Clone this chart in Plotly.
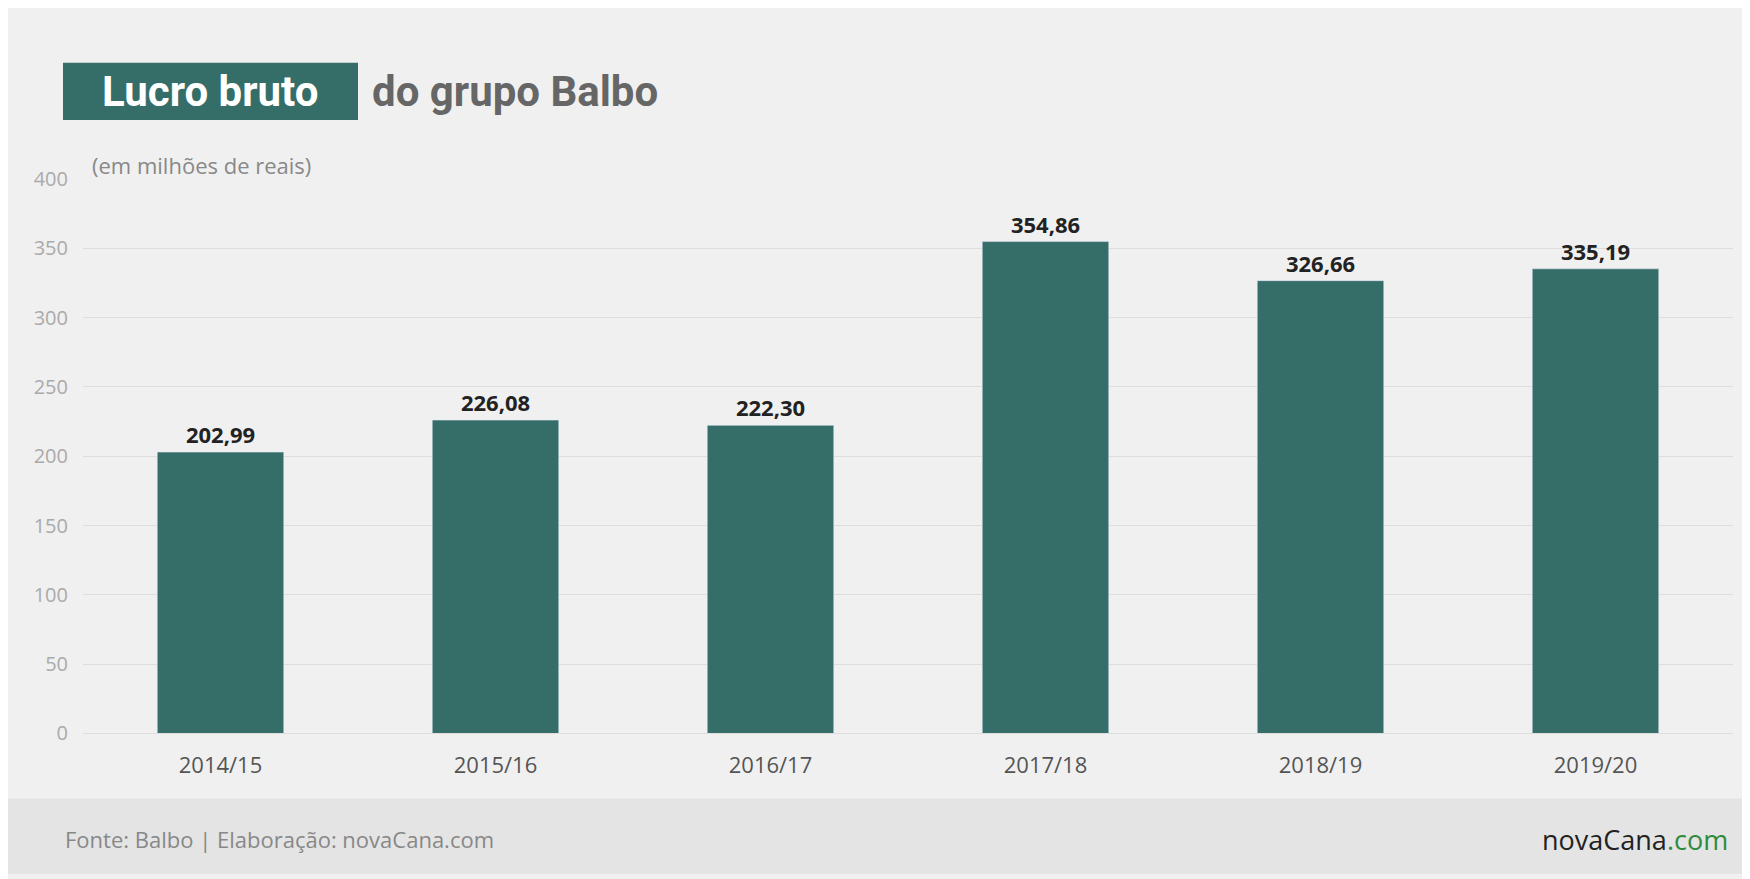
import plotly.graph_objects as go

categories = ["2014/15", "2015/16", "2016/17", "2017/18", "2018/19", "2019/20"]
values = [202.99, 226.08, 222.30, 354.86, 326.66, 335.19]
labels = ["202,99", "226,08", "222,30", "354,86", "326,66", "335,19"]

W, H = 1750, 879
def py(y): return 1 - y / H

fig = go.Figure(go.Bar(
    x=categories, y=values, width=0.46, marker_color="#356d69",
    text=["<b>%s</b>" % t for t in labels], textposition="outside", cliponaxis=False,
    textfont=dict(family="Open Sans", size=22, color="#222222"),
))
fig.update_layout(
    width=W, height=H, margin=dict(l=0, r=0, t=0, b=0),
    paper_bgcolor="#f0f0f0", plot_bgcolor="#f0f0f0", showlegend=False,
    xaxis=dict(domain=[75/W, 1725/W], tickfont=dict(family="Open Sans", size=22, color="#555"),
               showline=True, linecolor="#dddddd", ticks="", ticklabelstandoff=12),
    yaxis=dict(domain=[py(734), py(162)], range=[0, 400], dtick=50,
               gridcolor="#dddddd", zeroline=False,
               tickfont=dict(family="Open Sans", size=20, color="#aaaaaa"), ticklabelstandoff=14),
    shapes=[
        dict(type="rect", xref="paper", yref="paper", x0=0, x1=1, y0=0, y1=py(801),
             fillcolor="#e4e4e4", line_width=0, layer="below"),
        dict(type="rect", xref="paper", yref="paper", x0=55/W, x1=350/W, y0=py(101), y1=py(42),
             fillcolor="#356d69", line_width=0),
    ],
    annotations=[
        dict(xref="paper", yref="paper", x=202/W, y=py(72), text="<b>Lucro bruto</b>", showarrow=False,
             xanchor="center", yanchor="middle", font=dict(family="Roboto", size=42, color="white")),
        dict(xref="paper", yref="paper", x=362/W, y=py(72), text="<b>do grupo Balbo</b>", showarrow=False,
             xanchor="left", yanchor="middle", font=dict(family="Roboto", size=42, color="#666666")),
        dict(xref="paper", yref="paper", x=82/W, y=py(148), text="(em milhões de reais)", showarrow=False,
             xanchor="left", yanchor="middle", font=dict(family="Open Sans", size=22, color="#888888")),
        dict(xref="paper", yref="paper", x=55/W, y=py(843), text="Fonte: Balbo | Elaboração: novaCana.com",
             showarrow=False, xanchor="left", yanchor="middle", font=dict(family="Open Sans", size=22, color="#888888")),
        dict(xref="paper", yref="paper", x=1722/W, y=py(843),
             text="novaCana<span style='color:#2e8b3e'>.com</span>",
             showarrow=False, xanchor="right", yanchor="middle", font=dict(family="Open Sans", size=27, color="#222222")),
    ],
)
fig.write_html("out.html")
